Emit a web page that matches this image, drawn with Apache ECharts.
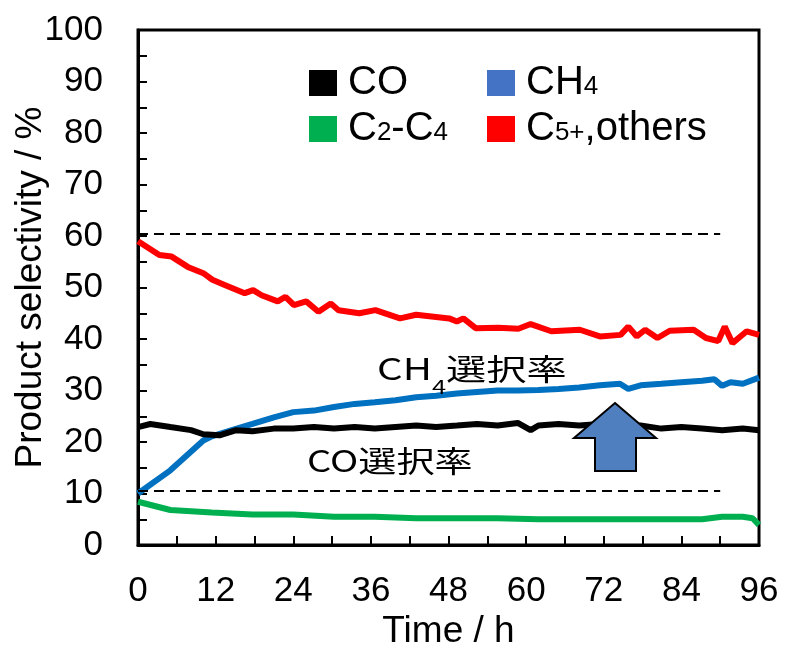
<!DOCTYPE html>
<html><head><meta charset="utf-8">
<script src="https://cdn.jsdelivr.net/npm/echarts@6/dist/echarts.min.js"></script>
<style>html,body{margin:0;padding:0;background:#fff}#c{width:788px;height:657px}</style>
</head><body><div id="c"></div>
<script>
// ---- data ----
const coTime = [0,1.9,5,8.2,10.1,12.6,15.2,17.7,21,24,27.2,30.3,33.5,36.6,39.8,43,46.1,49.3,52.4,55.6,58.7,60.7,61.9,65,68.2,71.4,74.5,77.7,80.9,84,87.2,90.3,93.5,96];
const coVal  = [22.9,23.5,22.9,22.3,21.5,21.3,22.3,22.1,22.6,22.6,22.9,22.6,22.9,22.6,22.9,23.2,22.9,23.2,23.5,23.2,23.7,22.3,23.2,23.5,23.2,23.5,22.9,23.2,22.6,22.9,22.6,22.3,22.6,22.3];

const ch4Time = [0,5,10.1,11.4,14.5,17.7,21,24,27.2,30.3,33.5,36.6,39.8,43,46.1,49.3,52.4,55.6,58.7,61.9,65,68.2,71.4,74.5,75.8,77.7,80.9,84,87.2,89.1,90.3,91.6,93.5,96];
const ch4Val  = [10,14.5,20.3,21.1,22.3,23.5,24.8,25.8,26.1,26.8,27.4,27.7,28.1,28.7,29,29.4,29.7,30,30,30.1,30.3,30.6,31,31.3,30.3,31,31.3,31.6,31.9,32.2,30.9,31.6,31.3,32.5];

const c24Time = [0,5,11.4,17.7,24,30.3,36.6,43,49.3,55.6,61.9,68.2,74.5,80.9,87.2,90.3,93.5,95,96];
const c24Val  = [8.4,6.8,6.3,5.9,5.9,5.5,5.5,5.2,5.2,5.2,5,5,5,5,5,5.5,5.5,5.2,3.9];

const c5Time = [0,3.3,5.2,7.7,10.2,11.5,13.4,16.5,17.8,19.1,21.6,22.8,24.1,26,27.9,29.8,31,34.2,36.7,40.5,43,48.1,49.3,50.3,52.2,55.7,58.8,60.7,63.9,68.3,71.4,74.6,75.8,77.1,78.4,80.3,82.2,85.9,87.8,89.7,90.7,91.9,94.1,96];
const c5Val  = [59,56.3,56,54,52.7,51.5,50.5,48.9,49.5,48.5,47.3,48.2,46.6,47.3,45.3,46.9,45.6,45,45.6,44,44.7,44,43.4,44,42.1,42.2,42,42.9,41.5,41.8,40.5,40.8,42.4,40.5,41.8,40.2,41.6,41.8,40.2,39.6,42.4,39.2,41.5,40.8];

const seriesNames = ['CO','CH4','C2-C4','C5+,others'];
const xLabelStep = 12;
const yLabelStep = 10;
const refLevels = [60.5, 10.5];   // dashed guide lines
const refEnd = 90;                // dashed guide lines end (h)

const pairs = (t, v) => t.map((x, i) => [x, v[i]]);

const fmtName = {
  'CO': '{f|CO}',
  'CH4': '{f|CH}{s|4}',
  'C2-C4': '{f|C}{s|2}{n|-C}{s|4}',
  'C5+,others': '{f|C}{s|5+}{n|,others}'
};
const legRich = {
  f: {fontSize: 40, fontFamily: 'Liberation Sans', color: '#000', lineHeight: 34, padding: [0,0,0,6]},
  n: {fontSize: 40, fontFamily: 'Liberation Sans', color: '#000', lineHeight: 34},
  s: {fontSize: 26, fontFamily: 'Liberation Sans', color: '#000', lineHeight: 26, verticalAlign: 'bottom'}
};
const legendBase = {
  orient: 'vertical', itemWidth: 28, itemHeight: 26, itemGap: 6, icon: 'rect',
  selectedMode: false, top: 58,
  formatter: n => fmtName[n],
  textStyle: {fontSize: 40, lineHeight: 34, rich: legRich}
};

const chart = echarts.init(document.getElementById('c'), null, {renderer: 'canvas'});
chart.setOption({
  animation: false,
  backgroundColor: '#fff',
  grid: {left: 138, right: 29, top: 30, bottom: 112, show: true, borderColor: '#000', borderWidth: 3,
    containLabel: false, outerBoundsMode: 'none'},
  legend: [
    Object.assign({}, legendBase, {left: 304, data: [{name: 'CO', itemStyle: {color: '#000'}}, {name: 'C2-C4', itemStyle: {color: '#00b050'}}]}),
    Object.assign({}, legendBase, {left: 482, data: [{name: 'CH4', itemStyle: {color: '#4472c4'}}, {name: 'C5+,others', itemStyle: {color: '#ff0000'}}]})
  ],
  xAxis: {
    type: 'value', min: 0, max: 96, interval: 6,
    name: 'Time / h', nameLocation: 'middle', nameGap: 68, nameMoveOverlap: false,
    nameTextStyle: {fontSize: 37, fontFamily: 'Liberation Sans', color: '#000'},
    axisLine: {lineStyle: {color: '#000', width: 3}},
    axisTick: {inside: true, length: 9, lineStyle: {color: '#000', width: 2}},
    axisLabel: {margin: 29, fontSize: 35, fontFamily: 'Liberation Sans', color: '#000',
      formatter: v => (v % xLabelStep === 0 ? String(v) : '')},
    splitLine: {show: false}
  },
  yAxis: {
    type: 'value', min: 0, max: 100, interval: 5,
    name: 'Product selectivity / %', nameLocation: 'middle', nameGap: 89, nameRotate: 90, nameMoveOverlap: false,
    nameTextStyle: {fontSize: 37, fontFamily: 'Liberation Sans', color: '#000'},
    axisLine: {lineStyle: {color: '#000', width: 3}},
    axisTick: {inside: true, length: 9, lineStyle: {color: '#000', width: 2}},
    axisLabel: {margin: 35, fontSize: 35, fontFamily: 'Liberation Sans', color: '#000',
      formatter: v => (v % yLabelStep === 0 ? String(v) : '')},
    splitLine: {show: false}
  },
  series: [
    {name: 'C5+,others', type: 'line', data: pairs(c5Time, c5Val), showSymbol: false, symbol: 'none',
      lineStyle: {color: '#ff0000', width: 6}, itemStyle: {color: '#ff0000'},
      markLine: {silent: true, symbol: 'none', label: {show: false},
        lineStyle: {color: '#000', width: 2, type: [10, 6]},
        data: refLevels.map(y => [{coord: [0, y]}, {coord: [refEnd, y]}])}},
    {name: 'CH4', type: 'line', data: pairs(ch4Time, ch4Val), showSymbol: false, symbol: 'none',
      lineStyle: {color: '#0070c0', width: 6}, itemStyle: {color: '#0070c0'}},
    {name: 'CO', type: 'line', data: pairs(coTime, coVal), showSymbol: false, symbol: 'none',
      lineStyle: {color: '#000', width: 6}, itemStyle: {color: '#000'}},
    {name: 'C2-C4', type: 'line', data: pairs(c24Time, c24Val), showSymbol: false, symbol: 'none',
      lineStyle: {color: '#00b050', width: 6}, itemStyle: {color: '#00b050'}}
  ],
  graphic: [
    {type: 'text', x: 377, y: 354, scaleX: 1.34, z: 100,
      style: {text: '{a|CH}{b|4}{a|選択率}{h| }', rich: {
        a: {fontSize: 30, fontFamily: 'Noto Sans CJK JP', fill: '#000', color: '#000', lineHeight: 32, verticalAlign: 'top'},
        b: {fontSize: 19, fontFamily: 'Noto Sans CJK JP', fill: '#000', color: '#000', lineHeight: 19, verticalAlign: 'bottom'},
        h: {fontSize: 2, lineHeight: 42}
      }}},
    {type: 'text', x: 307, y: 446, scaleX: 1.27, z: 100,
      style: {text: 'CO選択率', font: '30px "Noto Sans CJK JP"', fill: '#000'}},
    {type: 'polygon', z: 100,
      shape: {points: [[615,403],[656,438],[636,438],[636,471],[595,471],[595,438],[574,438]]},
      style: {fill: '#4f7fbf', stroke: '#000', lineWidth: 2}}
  ]
});
</script>
</body></html>
